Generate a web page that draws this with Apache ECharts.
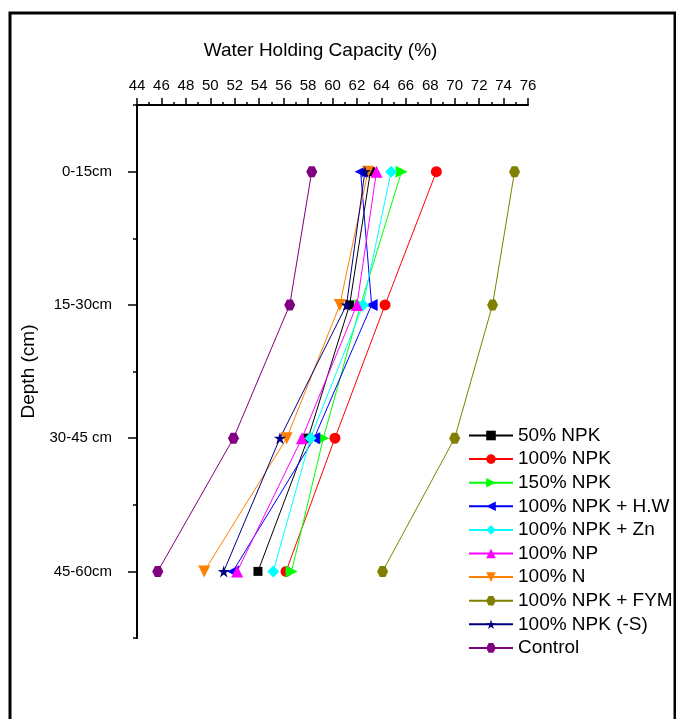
<!DOCTYPE html>
<html>
<head>
<meta charset="utf-8">
<script src="https://cdn.jsdelivr.net/npm/echarts@6/dist/echarts.min.js"></script>
<style>
  html, body { margin: 0; padding: 0; background: #fff; }
  #chart { width: 676px; height: 719px; }
</style>
</head>
<body>
<div id="chart"></div>
<script>
// depth layers (top to bottom)
const depths = ['0-15cm', '15-30cm', '30-45 cm', '45-60cm'];

// water holding capacity (%) per treatment, one value per depth
const npk50 = [63.1, 61.4, 58.0, 53.9];
const npk100 = [68.5, 64.3, 60.2, 56.2];
const npk150 = [65.65, 62.3, 59.25, 56.65];
const npkHW = [62.3, 63.2, 58.5, 51.85];
const npkZn = [64.8, 62.5, 58.2, 55.15];
const np100 = [63.6, 62.0, 57.5, 52.2];
const n100 = [62.9, 60.6, 56.25, 49.5];
const npkFYM = [74.9, 73.1, 70.0, 64.1];
const npkNoS = [62.65, 61.15, 55.7, 51.1];
const control = [58.3, 56.5, 51.9, 45.7];

const HEX = 'path://M-0.5,-0.866L0.5,-0.866L1,0L0.5,0.866L-0.5,0.866L-1,0Z';
const STAR = 'path://M0,-1L0.2245,-0.309L0.951,-0.309L0.3633,0.118L0.5878,0.809L0,0.382L-0.5878,0.809L-0.3633,0.118L-0.951,-0.309L-0.2245,-0.309Z';
const FONT = 'Liberation Sans';

const seriesDefs = [
  { name: '50% NPK', data: npk50, color: '#000000', symbol: 'rect', size: 9 },
  { name: '100% NPK', data: npk100, color: '#ff0000', symbol: 'circle', size: 11 },
  { name: '150% NPK', data: npk150, color: '#00ff00', symbol: 'triangle', rotate: -90, size: 12 },
  { name: '100% NPK + H.W', data: npkHW, color: '#0000ff', symbol: 'triangle', rotate: 90, size: 12 },
  { name: '100% NPK + Zn', data: npkZn, color: '#00ffff', symbol: 'diamond', size: 12 },
  { name: '100% NP', data: np100, color: '#ff00ff', symbol: 'triangle', size: 12 },
  { name: '100% N', data: n100, color: '#ff8000', symbol: 'triangle', rotate: 180, size: 12 },
  { name: '100% NPK + FYM', data: npkFYM, color: '#808000', symbol: HEX, size: 11 },
  { name: '100% NPK (-S)', data: npkNoS, color: '#000080', symbol: STAR, size: 12 },
  { name: 'Control', data: control, color: '#800080', symbol: HEX, size: 11 }
];

const chart = echarts.init(document.getElementById('chart'));

chart.setOption({
  animation: false,
  backgroundColor: '#fff',
  textStyle: { fontFamily: FONT },
  graphic: [{
    type: 'rect',
    shape: { x: 10, y: 13, width: 665, height: 720 },
    style: { fill: 'none', stroke: '#000', lineWidth: 3 },
    silent: true
  }],
  grid: { left: 137, top: 105, right: 148, bottom: 81 },
  xAxis: {
    type: 'value',
    position: 'top',
    min: 44,
    max: 76,
    interval: 2,
    name: 'Water Holding Capacity (%)',
    nameLocation: 'middle',
    nameGap: 45,
    nameTextStyle: { fontSize: 19, color: '#000', fontFamily: FONT, padding: [0, 24, 0, 0] },
    axisLine: { show: true, lineStyle: { color: '#000', width: 2 } },
    axisTick: { show: true, length: 7, lineStyle: { color: '#000', width: 1.5 } },
    minorTick: { show: true, splitNumber: 2, length: 3, lineStyle: { color: '#000', width: 1.5 } },
    axisLabel: { fontSize: 15, color: '#000', margin: 12, fontFamily: FONT },
    splitLine: { show: false }
  },
  yAxis: [{
    type: 'category',
    data: depths,
    inverse: true,
    boundaryGap: true,
    name: 'Depth (cm)',
    nameLocation: 'middle',
    nameGap: 92,
    nameTextStyle: { fontSize: 19, color: '#000', fontFamily: FONT },
    axisLine: { show: true, lineStyle: { color: '#000', width: 2 } },
    axisTick: { show: true, alignWithLabel: true, length: 9, lineStyle: { color: '#000', width: 1.5 } },
    axisLabel: { fontSize: 15, color: '#000', margin: 25, fontFamily: FONT },
    splitLine: { show: false }
  }, {
    type: 'category',
    data: depths,
    inverse: true,
    boundaryGap: true,
    position: 'left',
    axisLine: { show: true, lineStyle: { color: '#000', width: 2 } },
    axisTick: { show: true, length: 4, lineStyle: { color: '#000', width: 1.5 } },
    axisLabel: { show: false },
    splitLine: { show: false }
  }],
  legend: {
    orient: 'vertical',
    left: 468,
    top: 426,
    padding: 0,
    itemWidth: 44,
    itemHeight: 12,
    itemGap: 4.6,
    textStyle: { fontSize: 19, color: '#000', fontFamily: FONT },
    data: seriesDefs.map(s => s.name)
  },
  series: seriesDefs.map(s => ({
    name: s.name,
    type: 'line',
    data: s.data.map((v, i) => [v, depths[i]]),
    yAxisIndex: 0,
    symbol: s.symbol,
    symbolRotate: s.rotate || 0,
    symbolSize: s.size,
    showAllSymbol: true,
    lineStyle: { color: s.color, width: 1 },
    itemStyle: { color: s.color },
    emphasis: { disabled: true }
  }))
});
</script>
</body>
</html>
